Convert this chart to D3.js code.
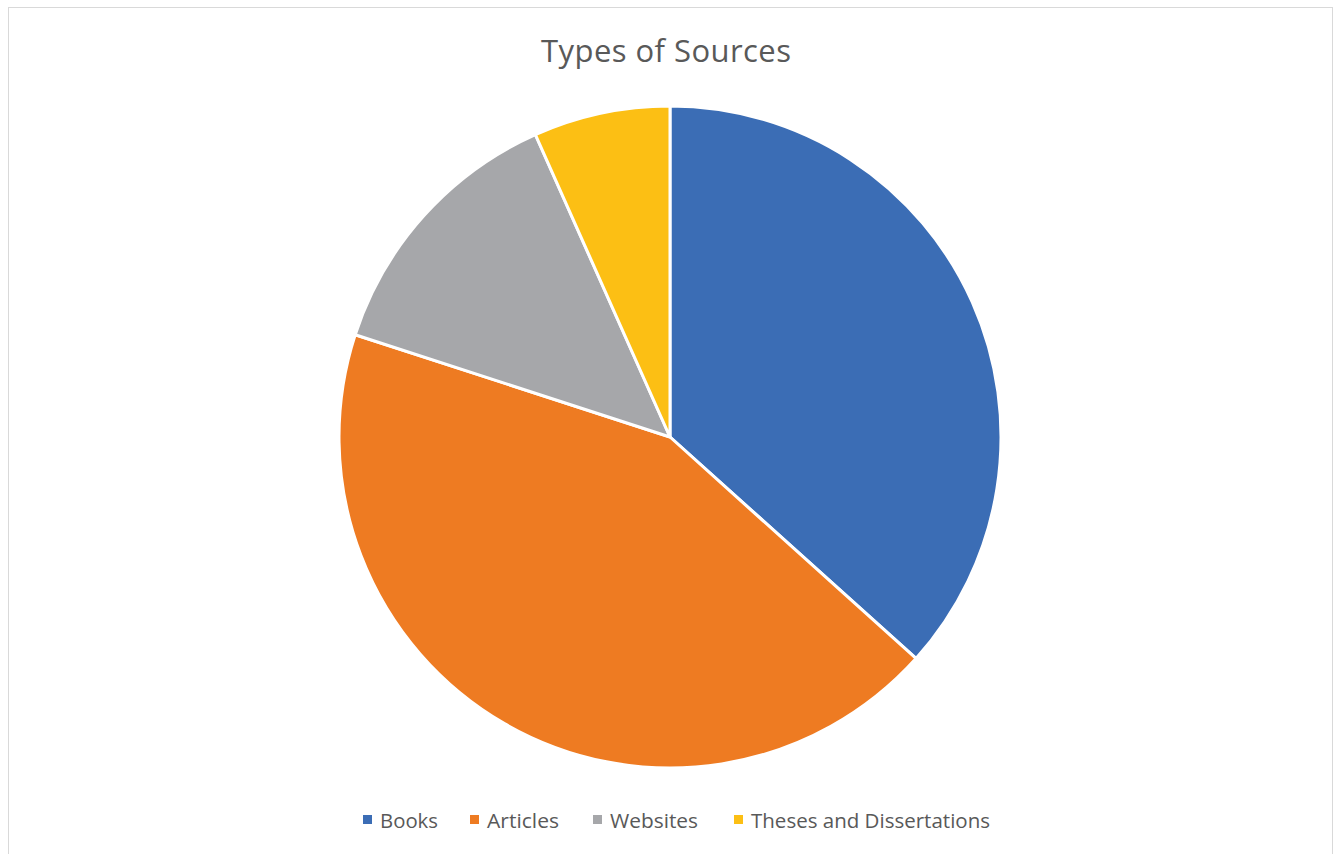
<!DOCTYPE html>
<html>
<head>
<meta charset="utf-8">
<script src="https://cdn.jsdelivr.net/npm/d3@7"></script>
<style>
  body { margin: 0; background: #fff; }
  text { font-family: "Open Sans", "Noto Sans", sans-serif; fill: #595959; }
</style>
</head>
<body>
<div class="chart"></div>
<script>
const categories = ["Books", "Articles", "Websites", "Theses and Dissertations"];
const values = [11, 13, 4, 2];
const colors = ["#3b6db5", "#ee7b22", "#a6a7aa", "#fcbf14"];

const width = 1338, height = 854;
const cx = 670, cy = 437, radius = 331;

const svg = d3.select(".chart").append("svg")
  .attr("width", width)
  .attr("height", height);

// chart frame
svg.append("rect")
  .attr("x", 8.5).attr("y", 7.5)
  .attr("width", 1324).attr("height", 860)
  .attr("fill", "#fff")
  .attr("stroke", "#d9d9d9");

svg.append("text")
  .attr("x", 666).attr("y", 62)
  .attr("text-anchor", "middle")
  .attr("textLength", 250)
  .style("font-size", "31px")
  .text("Types of Sources");

const data = categories.map((c, i) => ({ name: c, value: values[i], color: colors[i] }));

const pie = d3.pie().value(d => d.value).sort(null);
const arc = d3.arc().innerRadius(0).outerRadius(radius);

svg.append("g")
  .attr("transform", "translate(" + cx + "," + cy + ")")
  .selectAll("path")
  .data(pie(data))
  .enter()
  .append("path")
  .attr("d", arc)
  .attr("fill", d => d.data.color)
  .attr("stroke", "#fff")
  .attr("stroke-width", 3);

// legend
const legendX = [363, 470, 593, 734];
const legendW = [58, 72, 88, 239];
const legend = svg.append("g");
const item = legend.selectAll(".item")
  .data(data)
  .enter()
  .append("g")
  .attr("class", "item")
  .attr("transform", (d, i) => "translate(" + legendX[i] + ",820)");

item.append("rect")
  .attr("x", 0).attr("y", -5)
  .attr("width", 9).attr("height", 9)
  .attr("fill", d => d.color);

item.append("text")
  .attr("x", 17).attr("y", 8)
  .attr("textLength", (d, i) => legendW[i])
  .attr("lengthAdjust", "spacingAndGlyphs")
  .style("font-size", "20px")
  .text(d => d.name);
</script>
</body>
</html>
